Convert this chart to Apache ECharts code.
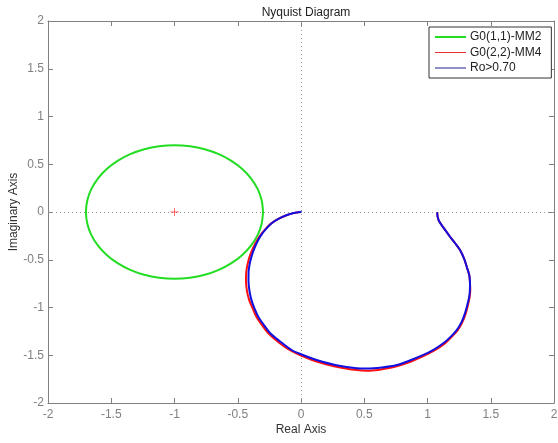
<!DOCTYPE html>
<html>
<head>
<meta charset="utf-8">
<script src="https://cdn.jsdelivr.net/npm/echarts@6/dist/echarts.min.js"></script>
<style>html,body{margin:0;padding:0;background:#fff;}#c{width:558px;height:443px;}</style>
</head>
<body>
<div id="c"></div>
<script>
// Data: [real, imaginary]
var seriesNames = ['G0(1,1)-MM2', 'G0(2,2)-MM4', 'Ro>0.70'];
var xTicks = [-2, -1.5, -1, -0.5, 0, 0.5, 1, 1.5, 2];
var yTicks = [-2, -1.5, -1, -0.5, 0, 0.5, 1, 1.5, 2];

var greenCircle = [
  [-0.30, 0.00], [-0.311, 0.122], [-0.342, 0.239], [-0.394, 0.35], [-0.464, 0.45], [-0.55, 0.536],
  [-0.65, 0.606], [-0.761, 0.658], [-0.878, 0.689], [-1.00, 0.70], [-1.122, 0.689], [-1.239, 0.658],
  [-1.35, 0.606], [-1.45, 0.536], [-1.536, 0.45], [-1.606, 0.35], [-1.658, 0.239], [-1.689, 0.122],
  [-1.70, 0.00], [-1.689, -0.122], [-1.658, -0.239], [-1.606, -0.35], [-1.536, -0.45], [-1.45, -0.536],
  [-1.35, -0.606], [-1.239, -0.658], [-1.122, -0.689], [-1.00, -0.70], [-0.878, -0.689], [-0.761, -0.658],
  [-0.65, -0.606], [-0.55, -0.536], [-0.464, -0.45], [-0.394, -0.35], [-0.342, -0.239], [-0.311, -0.122],
  [-0.30, 0.00]
];

var redCurve = [
  [0.00, 0.00], [-0.06, -0.012], [-0.12, -0.037], [-0.18, -0.073], [-0.238, -0.122], [-0.285, -0.185],
  [-0.327, -0.255], [-0.363, -0.335], [-0.395, -0.425], [-0.418, -0.52], [-0.432, -0.62], [-0.435, -0.72],
  [-0.428, -0.82], [-0.41, -0.92], [-0.382, -1.01], [-0.352, -1.10], [-0.305, -1.19], [-0.26, -1.267],
  [-0.19, -1.35], [-0.09, -1.445], [0.01, -1.51], [0.11, -1.56], [0.26, -1.615], [0.40, -1.648],
  [0.545, -1.662], [0.65, -1.645], [0.757, -1.615], [0.87, -1.565], [0.967, -1.51], [1.055, -1.45],
  [1.13, -1.385], [1.185, -1.315], [1.238, -1.24], [1.275, -1.155], [1.302, -1.065], [1.32, -0.975],
  [1.333, -0.89], [1.338, -0.82], [1.336, -0.747], [1.33, -0.66], [1.31, -0.573], [1.29, -0.49],
  [1.257, -0.398], [1.22, -0.33], [1.178, -0.259], [1.135, -0.18], [1.093, -0.10], [1.08, -0.05],
  [1.077, 0.00]
];

var blueCurve = [
  [0.005, 0.003], [-0.058, -0.01], [-0.116, -0.034], [-0.175, -0.07], [-0.232, -0.118], [-0.278, -0.18],
  [-0.319, -0.25], [-0.352, -0.33], [-0.38, -0.42], [-0.402, -0.52], [-0.414, -0.62], [-0.415, -0.72],
  [-0.408, -0.82], [-0.392, -0.92], [-0.368, -1.01], [-0.338, -1.096], [-0.292, -1.185], [-0.245, -1.267],
  [-0.17, -1.35], [-0.074, -1.445], [0.02, -1.50], [0.124, -1.55], [0.28, -1.605], [0.44, -1.637],
  [0.52, -1.64], [0.64, -1.628], [0.757, -1.602], [0.87, -1.55], [0.967, -1.497], [1.05, -1.44],
  [1.125, -1.375], [1.18, -1.31], [1.231, -1.236], [1.27, -1.15], [1.296, -1.061], [1.315, -0.97],
  [1.33, -0.887], [1.335, -0.82], [1.336, -0.747], [1.33, -0.66], [1.31, -0.573], [1.29, -0.49],
  [1.257, -0.398], [1.22, -0.33], [1.178, -0.259], [1.135, -0.18], [1.093, -0.10], [1.08, -0.05],
  [1.077, -0.003]
];

var centerMark = [[-1, 0]];

var font = 'Liberation Sans, Arial, Helvetica, sans-serif';
var axisGray = '#808080';

function axisCommon(showLabel, pos) {
  return {
    type: 'value', min: -2, max: 2, interval: 0.5, position: pos,
    axisLine: { show: true, onZero: false, lineStyle: { color: axisGray, width: 1 } },
    axisTick: { show: true, inside: true, length: 5, lineStyle: { color: axisGray } },
    axisLabel: { show: showLabel, color: axisGray, fontSize: 12, fontFamily: font,
      formatter: function (v) { return String(Math.round(v * 10) / 10); } },
    splitLine: { show: false }
  };
}

var xb = axisCommon(true, 'bottom');
xb.name = 'Real Axis'; xb.nameLocation = 'middle'; xb.nameGap = 21; xb.nameMoveOverlap = false;
xb.nameTextStyle = { color: '#333', fontSize: 12, fontFamily: font };
xb.axisLabel.margin = 6;
var xt = axisCommon(false, 'top');
var yl = axisCommon(true, 'left');
yl.name = 'Imaginary Axis'; yl.nameLocation = 'middle'; yl.nameGap = 28; yl.nameMoveOverlap = false;
yl.nameTextStyle = { color: '#333', fontSize: 12, fontFamily: font };
yl.axisLabel.margin = 4;
var yr = axisCommon(false, 'right');

var chart = echarts.init(document.getElementById('c'), null, { renderer: 'canvas' });
chart.setOption({
  animation: false,
  backgroundColor: '#fff',
  title: { text: 'Nyquist Diagram', left: 301, top: 2, textAlign: 'center',
    textStyle: { color: '#222', fontSize: 12, fontWeight: 'normal', fontFamily: font } },
  grid: { left: 48, right: 4, top: 21, bottom: 40, containLabel: false, outerBoundsMode: 'none' },
  xAxis: [xb, xt],
  yAxis: [yl, yr],
  legend: {
    orient: 'vertical', left: 429, top: 27,
    backgroundColor: '#fff', borderColor: '#333', borderWidth: 1, borderRadius: 0,
    padding: [4, 10, 4, 6], itemGap: 3.5, itemWidth: 31, itemHeight: 13,
    textStyle: { color: '#222', fontSize: 12, fontFamily: font, padding: [0, 0, 0, -1] },
    data: [
      { name: seriesNames[0], icon: 'path://M0,0h31v2h-31z', itemStyle: { color: '#22dd22' } },
      { name: seriesNames[1], icon: 'path://M0,0h31v1h-31z', itemStyle: { color: '#e03030' } },
      { name: seriesNames[2], icon: 'path://M0,0h31v1h-31z', itemStyle: { color: '#202090' } }
    ]
  },
  series: [
    {
      name: seriesNames[0], type: 'line', data: greenCircle, smooth: 0.3, symbol: 'none',
      lineStyle: { color: '#22dd22', width: 2 }, itemStyle: { color: '#22dd22' },
      markLine: {
        silent: true, symbol: 'none', label: { show: false },
        lineStyle: { color: '#999', type: [1, 3], width: 1 },
        data: [{ xAxis: 0 }, { yAxis: 0 }]
      }, z: 3
    },
    {
      name: seriesNames[1], type: 'line', data: redCurve, smooth: 0.3, symbol: 'none',
      lineStyle: { color: '#ff1010', width: 2 }, itemStyle: { color: '#ff1010' }, z: 4
    },
    {
      name: seriesNames[2], type: 'line', data: blueCurve, smooth: 0.3, symbol: 'none',
      lineStyle: { color: '#1010e0', width: 2 }, itemStyle: { color: '#1010e0' }, z: 5
    },
    {
      name: 'center', type: 'scatter', data: centerMark,
      symbol: 'path://M4.5,0h1v10h-1z M0,4.5h10v1h-10z', symbolSize: 8,
      itemStyle: { color: '#ff2020' }, z: 6
    }
  ]
});
</script>
</body>
</html>
